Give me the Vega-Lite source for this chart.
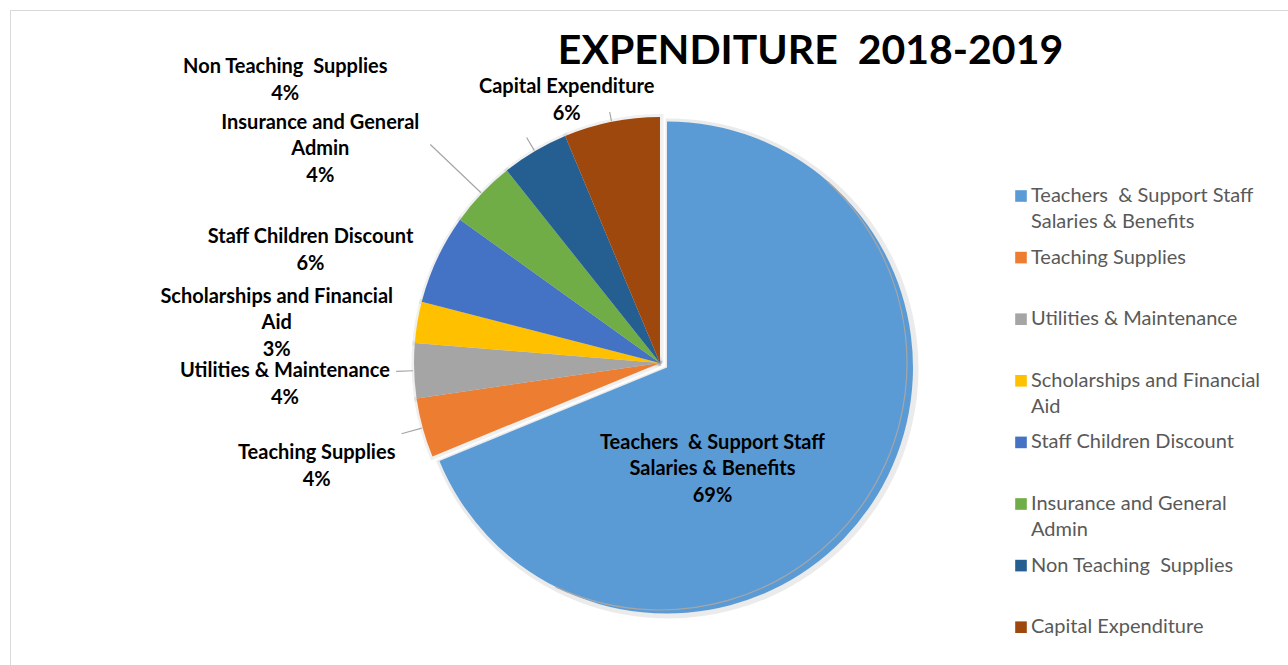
{
  "$schema": "https://vega.github.io/schema/vega-lite/v6.json",
  "width": 1278,
  "height": 655,
  "autosize": {"type": "none"},
  "padding": {"left": 10, "top": 10, "right": 0, "bottom": 0},
  "background": "white",
  "view": {"stroke": "#D9D9D9", "strokeWidth": 1},
  "config": {"view": {"stroke": "#D9D9D9", "strokeWidth": 1}, "style": {"cell": {"stroke": "#D9D9D9"}}},
  "title": {
    "text": "EXPENDITURE\u00a0 2018-2019",
    "font": "Lato",
    "fontSize": 41,
    "fontWeight": "bold",
    "color": "#000000",
    "anchor": "middle",
    "frame": "group",
    "dx": 161.5,
    "dy": 55,
    "offset": -40,
    "baseline": "alphabetic"
  },
  "data": {
    "values": [
      {"category": "Teachers\u00a0 & Support Staff\nSalaries & Benefits", "share": 0.688},
      {"category": "Teaching Supplies", "share": 0.039},
      {"category": "Utilities & Maintenance", "share": 0.036},
      {"category": "Scholarships and Financial\nAid", "share": 0.027},
      {"category": "Staff Children Discount", "share": 0.059},
      {"category": "Insurance and General\nAdmin", "share": 0.044},
      {"category": "Non Teaching\u00a0 Supplies", "share": 0.044},
      {"category": "Capital Expenditure", "share": 0.063}
    ]
  },
  "transform": [{"window": [{"op": "row_number", "as": "idx"}]}],
  "encoding": {
    "theta": {"field": "share", "type": "quantitative", "stack": true},
    "order": {"field": "idx", "type": "quantitative"},
    "color": {
      "field": "category",
      "type": "nominal",
      "sort": null,
      "scale": {"range": ["#5B9BD5", "#ED7D31", "#A5A5A5", "#FFC000", "#4472C4", "#70AD47", "#255E91", "#9E480E"]},
      "legend": {
        "orient": "none",
        "legendX": 1001,
        "legendY": 176,
        "title": null,
        "symbolType": "square",
        "symbolSize": 135,
        "symbolStrokeWidth": 0,
        "labelFont": "Lato",
        "labelFontSize": 20,
        "labelColor": "#595959",
        "labelExpr": "split(datum.label, '\\n')",
        "labelOffset": 0,
        "labelLimit": 400,
        "labelBaseline": "middle",
        "rowPadding": 15.6,
        "gridAlign": "all",
        "padding": 0,
        "encode": {"labels": {"update": {"lineHeight": {"value": 26}}}}
      }
    }
  },
  "layer": [
    {
      "mark": {"type": "arc", "outerRadius": 247, "xOffset": 12, "yOffset": 26, "filled": false, "strokeWidth": 5},
      "encoding": {
        "color": {"value": "#000000"},
        "strokeOpacity": {"condition": {"test": "datum.idx == 1", "value": 0}, "value": 0.06}
      }
    },
    {
      "mark": {"type": "arc", "outerRadius": 247, "xOffset": 19.5, "yOffset": 31, "filled": false, "strokeWidth": 6},
      "encoding": {
        "color": {"value": "#000000"},
        "strokeOpacity": {"condition": {"test": "datum.idx == 1", "value": 0.08}, "value": 0}
      }
    },
    {
      "mark": {"type": "arc", "outerRadius": 246, "xOffset": 11, "yOffset": 25.5},
      "encoding": {"fillOpacity": {"condition": {"test": "datum.idx == 1", "value": 0}, "value": 1}}
    },
    {
      "mark": {"type": "arc", "outerRadius": 246, "xOffset": 18, "yOffset": 30},
      "encoding": {"fillOpacity": {"condition": {"test": "datum.idx == 1", "value": 1}, "value": 0}}
    },
    {
      "mark": {
        "type": "arc",
        "filled": false,
        "strokeWidth": 1.2,
        "padAngle": 1,
        "innerRadius": 247,
        "outerRadius": {"expr": "[247, 268, 264, 247, 247, 317, 262, 256][datum.idx - 1]"},
        "xOffset": 11,
        "yOffset": 25.5
      },
      "encoding": {"color": {"value": "#A6A6A6"}}
    },
    {
      "mark": {
        "type": "text",
        "font": "Lato",
        "fontSize": 20,
        "fontWeight": "bold",
        "align": "center",
        "baseline": "bottom",
        "lineBreak": "\n",
        "lineHeight": 26,
        "radius": {"expr": "datum.idx == 1 ? 130 : 370"},
        "dx": {"expr": "[-44.5, 24.6, 5.8, -7.4, -3.2, -60.6, -175.4, -9.6][datum.idx - 1]"},
        "dy": {"expr": "[69.4, 28.2, 31.9, 57.1, 65.7, 76.6, 57.7, 122][datum.idx - 1] - 26 * (length(split(datum.category, '\\n')) - 1)"}
      },
      "encoding": {
        "text": {"field": "category", "type": "nominal"},
        "color": {"value": "#000000"}
      }
    },
    {
      "mark": {
        "type": "text",
        "font": "Lato",
        "fontSize": 20,
        "fontWeight": "bold",
        "align": "center",
        "baseline": "bottom",
        "radius": {"expr": "datum.idx == 1 ? 130 : 370"},
        "dx": {"expr": "[-44.5, 24.6, 5.8, -7.4, -3.2, -60.6, -175.4, -9.6][datum.idx - 1]"},
        "dy": {"expr": "[69.4, 28.2, 31.9, 57.1, 65.7, 76.6, 57.7, 122][datum.idx - 1] + 27"}
      },
      "encoding": {
        "text": {"field": "share", "type": "quantitative", "format": ".0%"},
        "color": {"value": "#000000"}
      }
    }
  ]
}
